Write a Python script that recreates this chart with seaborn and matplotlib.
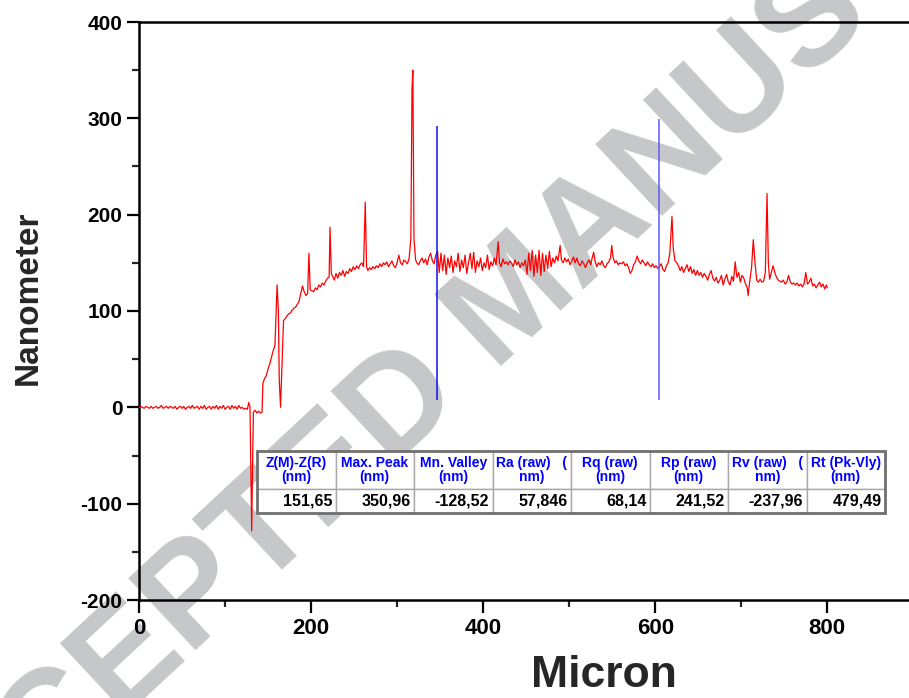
import matplotlib
matplotlib.use("Agg")
import matplotlib.pyplot as plt
import numpy as np
import pandas as pd
import seaborn as sns
from matplotlib.ticker import MultipleLocator
from matplotlib.patches import Rectangle

# ---------------- data ----------------
micron = [
    0, 2, 4, 6, 8, 10, 12, 14, 16, 18,
    20, 22, 24, 26, 28, 30, 32, 34, 36, 38,
    40, 42, 44, 46, 48, 50, 52, 54, 56, 58,
    60, 62, 64, 66, 68, 70, 72, 74, 76, 78,
    80, 82, 84, 86, 88, 90, 92, 94, 96, 98,
    100, 102, 104, 106, 108, 110, 112, 114, 116, 118,
    120, 122, 124, 126,
    127.5, 129, 130, 131, 132, 133, 135, 137, 139, 141,
    143, 144, 146, 148, 150, 152, 154, 156, 158, 159.5,
    160.5, 162, 163, 164.5, 166, 168, 170, 172, 174, 176,
    178, 180, 182, 184, 186, 188, 190, 192, 194, 196,
    197.5, 199, 201, 203, 205, 207, 209, 211, 213, 215,
    217, 219, 221, 222, 223.5, 225, 227, 229, 231, 233,
    235, 237, 239, 241, 243, 245, 247, 249, 251, 253,
    255, 257, 259, 261, 263, 264.5, 266, 268, 270, 272,
    274, 276, 278, 280, 282, 284, 286, 288, 290, 292,
    294, 296, 298, 300, 302, 304, 306, 308, 310, 312,
    314, 316, 317.3, 318.3, 319.6, 321.5, 323, 325, 327, 329,
    331, 333, 335, 337, 339, 341, 343, 345,
    347, 349, 351, 353, 355, 357, 359, 361, 363, 365,
    367, 369, 371, 373, 375, 377, 379, 381, 383, 385,
    387, 389, 391, 393, 395, 397, 399, 401, 403, 405,
    407, 409, 411, 413, 415, 417.5, 419, 421, 423, 425,
    427, 429, 431, 433, 435, 437, 439, 441, 443, 445,
    447, 449,
    451, 453, 455, 457, 459, 461, 463, 465, 467, 469,
    471, 473, 475, 477, 479, 481, 483, 485, 487, 489.5,
    491, 493, 495, 497, 499, 501, 503, 505, 507, 509,
    511, 513, 515, 517, 519, 521, 523, 525, 527, 528.5,
    530, 532, 534, 536, 538, 540, 542, 544, 546, 548,
    549.5, 551, 553, 555, 557, 559, 561, 563, 565, 567,
    569, 571, 573, 575, 577, 579, 581, 583, 585, 587,
    589, 591, 593, 595, 597, 599,
    601, 603, 605, 607, 609, 611, 613, 615, 617, 619.5,
    621, 623, 625, 627, 629, 631, 633, 635, 637, 639,
    641, 643, 645, 647, 649, 651, 653, 655, 657, 659,
    661, 663, 665, 667, 669, 671, 673, 675, 677, 679,
    681, 683, 685, 687, 689, 691, 693, 695, 697, 699,
    701, 703, 705, 707, 708, 710, 712, 714, 716, 718,
    720, 722, 724, 726, 728, 730, 731.5, 733, 735, 737,
    739, 741, 743, 745, 747, 749, 751, 753, 755, 757,
    759, 761, 763, 765, 767, 769, 771, 773, 775, 777,
    779, 781, 783, 785, 787, 789, 791, 793, 795, 797,
    799, 800,
]
nanometer = [
    0, 1, 0, -1, 1, 0, -1, 1, -1, 0,
    1, -1, 0, 2, -1, 0, 1, -1, 1, 0,
    -1, 1, -2, 0, 1, -1, 1, -2, 0, 1,
    -1, 2, -1, 0, 1, -2, 1, -1, 2, -2,
    0, 1, -2, 1, -1, 2, -2, 1, -1, 2,
    -2, 0, 1, -2, 2, -1, 1, -2, 2, -1,
    0, -2, -1, -2,
    5, 1, -60, -128, -60, -5, -3, -6, -4, -6,
    -5, 25, 30, 33, 40, 45, 52, 59, 64, 100,
    127, 100, 30, 0, 40, 90, 92, 95, 97, 98,
    101, 103, 104, 107, 110, 118, 126, 120, 116, 118,
    160, 122, 121, 120, 124, 122, 127, 125, 129, 127,
    131, 134, 135, 187, 139, 136, 132, 139, 134, 140,
    137, 142, 136, 141, 139, 144, 141, 146, 143, 147,
    144, 148, 150, 146, 213, 146, 142, 145, 143, 146,
    144, 147, 145, 149, 146, 150, 148, 151, 146, 149,
    152, 147, 145, 150, 158, 150, 148, 153, 151, 149,
    155, 175, 330, 350, 175, 153, 150, 148, 152, 155,
    150, 154, 148, 156, 160, 152, 149, 158,
    162, 140, 160, 142, 158, 138, 155, 145, 157, 140,
    152, 146, 160, 141, 153, 145, 158, 139, 150, 160,
    144, 161, 140, 152, 146, 155, 142, 150, 145, 158,
    143, 151, 147, 155, 148, 172, 150, 146, 154, 149,
    151, 148, 152, 150, 146, 153, 148, 151, 145, 150,
    147, 153,
    138, 160, 142, 163, 136, 158, 140, 163, 137, 160,
    141, 158, 144, 162, 146, 155, 150, 157, 152, 168,
    153, 150, 155, 151, 154, 148, 152, 156, 150, 155,
    149, 147, 152, 149, 145, 150, 153, 148, 156, 161,
    152, 146, 150, 148, 152, 147, 145, 149, 151, 155,
    168, 156, 150, 152, 148, 150, 149, 151, 147, 149,
    145, 139, 142, 148, 151, 157, 152, 149, 153, 150,
    147, 151, 148, 146, 149, 145,
    147, 144, 146, 149, 143, 141, 147, 150, 160, 198,
    165, 152, 150, 147, 142, 146, 140, 144, 148, 141,
    146, 139, 143, 137, 142, 137, 140, 135, 139, 136,
    132, 138, 142, 134, 131, 135, 129, 132, 137, 127,
    133, 138, 130, 127, 136, 131, 151, 135, 140, 130,
    137, 134, 128, 124, 116, 132, 145, 174, 150, 132,
    130, 133, 130, 131, 140, 222, 150, 133, 140, 147,
    140, 135, 132, 131, 130, 132, 128, 130, 137, 130,
    128, 129, 127, 129, 126, 128, 125, 128, 140, 128,
    130, 134, 126, 128, 124, 127, 130, 125, 128, 123,
    127, 124,
]

# cursor lines (blue)
marker_x = [346.5, 604.7]
marker_bottom = [8, 8]
marker_top = [292, 299]

# results table
table_headers = ["Z(M)-Z(R)\n(nm)", "Max. Peak\n(nm)", "Mn. Valley\n(nm)",
                 "Ra (raw)   (\nnm)", "Rq (raw)\n(nm)", "Rp (raw)\n(nm)",
                 "Rv (raw)   (\nnm)", "Rt (Pk-Vly)\n(nm)"]
table_values = ["151,65", "350,96", "-128,52", "57,846",
                "68,14", "241,52", "-237,96", "479,49"]

x_ticks = [0, 200, 400, 600, 800]
y_ticks = [-200, -100, 0, 100, 200, 300, 400]

# ---------------- style ----------------
sns.set_style("ticks")
plt.rcParams["font.family"] = ["Liberation Sans", "DejaVu Sans"]
plt.rcParams["font.weight"] = "bold"
plt.rcParams["axes.unicode_minus"] = False

W, H = 909, 698
fig = plt.figure(figsize=(W / 100, H / 100), dpi=100, facecolor="white")
ax = fig.add_axes([139 / W, 98 / H, 770 / W, 578 / H])
ax.patch.set_alpha(0)

# watermark behind everything
fig.text(515 / W, 1 - 302 / H, "ACCEPTED MANUSCRIPT", rotation=43,
         rotation_mode="anchor", ha="center", va="center", fontsize=102,
         color="#c6c7c9", fontweight="bold", zorder=-5)

df = pd.DataFrame({"Micron": micron, "Nanometer": nanometer})
sns.lineplot(data=df, x="Micron", y="Nanometer", color="#ff0000",
             linewidth=0.9, sort=False, estimator=None, ax=ax, zorder=3)

ax.vlines(marker_x, marker_bottom, marker_top,
          colors=["#1010ee", "#5a5aff"], linewidth=1.1, zorder=4)

ax.set_xlim(0, 895)
ax.set_ylim(-200, 400)
ax.set_xticks(x_ticks)
ax.set_yticks(y_ticks)
ax.xaxis.set_minor_locator(MultipleLocator(100))
ax.yaxis.set_minor_locator(MultipleLocator(50))
ax.tick_params(which="major", direction="out", length=9, width=1.6,
               labelsize=15, pad=3, colors="black")
ax.tick_params(axis="x", which="major", labelsize=16, pad=4)
ax.tick_params(which="minor", direction="out", length=5, width=1.6)
ax.tick_params(top=False, right=False)
for s in ["left", "bottom", "top"]:
    ax.spines[s].set_linewidth(1.8)
    ax.spines[s].set_color("black")
ax.spines["right"].set_visible(False)

ax.set_xlabel("Micron", fontsize=32, fontweight="bold", va="baseline")
ax.xaxis.set_label_coords((604 - 139) / 770, (600 - 687) / 578)
ax.set_ylabel("Nanometer", fontsize=24, fontweight="bold", va="center")
ax.yaxis.set_label_coords((28 - 139) / 770, (600 - 298) / 578)

# table
tx0 = (257 - 139) / 770
tx1 = (885 - 139) / 770
ty_top = (600 - 451) / 578
ty_bot = (600 - 513) / 578
tbl = ax.table(cellText=[table_values], colLabels=table_headers,
               cellLoc="right", colLoc="center",
               bbox=[tx0, ty_bot, tx1 - tx0, ty_top - ty_bot])
tbl.auto_set_font_size(False)
tbl.set_zorder(6)
for (r, c), cell in tbl.get_celld().items():
    cell.set_edgecolor("#a8a8a8")
    cell.set_linewidth(1.0)
    cell.set_facecolor("white")
    cell.PAD = 0.04
    t = cell.get_text()
    t.set_fontweight("bold")
    if r == 0:
        cell.set_height(0.38)
        t.set_color("#0000ff")
        t.set_fontsize(10)
        t.set_linespacing(1.05)
    else:
        cell.set_height(0.24)
        t.set_color("black")
        t.set_fontsize(11.5)
ax.add_patch(Rectangle((tx0, ty_bot), tx1 - tx0, ty_top - ty_bot,
                       transform=ax.transAxes, fill=False,
                       edgecolor="#707070", linewidth=2, zorder=7))

fig.savefig("out.png", dpi=100, facecolor="white")
